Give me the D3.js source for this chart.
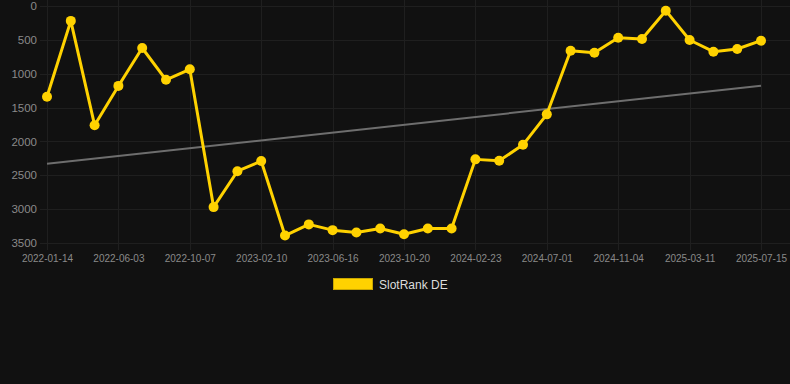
<!DOCTYPE html>
<html><head><meta charset="utf-8">
<script src="https://cdn.jsdelivr.net/npm/d3@7"></script>
<style>html,body{margin:0;padding:0;background:#111111;}svg{display:block;}</style>
</head><body>
<svg id="c" width="790" height="384"></svg>
<script>
const dates = ["2022-01-14","2022-02-28","2022-04-14","2022-06-03","2022-07-15","2022-08-26","2022-10-07","2022-11-18","2022-12-30","2023-02-10","2023-03-24","2023-05-05","2023-06-16","2023-07-28","2023-09-08","2023-10-20","2023-12-01","2024-01-12","2024-02-23","2024-04-05","2024-05-17","2024-07-01","2024-08-12","2024-09-23","2024-11-04","2024-12-16","2025-01-27","2025-03-11","2025-04-22","2025-06-03","2025-07-15"];
const ranks = [1340,220,1760,1180,620,1090,935,2970,2440,2290,3390,3225,3310,3345,3285,3370,3285,3285,2265,2285,2050,1600,660,690,468,487,69,502,675,635,512];
const trendEnds = [2330,1177];
const yTicks = [0,500,1000,1500,2000,2500,3000,3500];
const xTickLabels = ["2022-01-14","2022-06-03","2022-10-07","2023-02-10","2023-06-16","2023-10-20","2024-02-23","2024-07-01","2024-11-04","2025-03-11","2025-07-15"];
const seriesName = "SlotRank DE";

const svg = d3.select("#c");
const x = d3.scalePoint().domain(dates).range([47, 761]);
const y = d3.scaleLinear().domain([0, 3500]).range([6, 243]);
const gridColor = "#1f1f1f";
const textColor = "#8a8a8a";
const yellow = "#FFD200";

// horizontal grid + y labels
const yAxis = d3.axisLeft(y).tickValues(yTicks).tickSize(0).tickPadding(0).tickFormat(d3.format("d"));
const gy = svg.append("g").attr("transform","translate(37,0)").call(yAxis);
gy.select(".domain").remove();
gy.selectAll("text").attr("fill",textColor).style("font-family","Liberation Sans, Arial, sans-serif").style("font-size","11.5px").attr("x",0);
svg.append("g").selectAll("line").data(yTicks).join("line")
  .attr("x1",40).attr("x2",790).attr("y1",d=>Math.round(y(d))+0.5).attr("y2",d=>Math.round(y(d))+0.5)
  .attr("stroke",gridColor).attr("stroke-width",1);

// vertical grid + x labels
const xAxis = d3.axisBottom(x).tickValues(xTickLabels).tickSize(0).tickPadding(0);
const gx = svg.append("g").attr("transform","translate(0,258)").call(xAxis);
gx.select(".domain").remove();
gx.selectAll("text").attr("fill",textColor).style("font-family","Liberation Sans, Arial, sans-serif").style("font-size","10px").attr("dy","0.35em").attr("y",0);
svg.append("g").selectAll("line").data(xTickLabels).join("line")
  .attr("x1",d=>Math.round(x(d))+0.5).attr("x2",d=>Math.round(x(d))+0.5).attr("y1",0).attr("y2",250)
  .attr("stroke",gridColor).attr("stroke-width",1);

// trend line
svg.append("line")
  .attr("x1",x(dates[0])).attr("y1",y(trendEnds[0]))
  .attr("x2",x(dates[dates.length-1])).attr("y2",y(trendEnds[1]))
  .attr("stroke","#6e6e6e").attr("stroke-width",2);

// series line
const line = d3.line().x((d,i)=>x(dates[i])).y(d=>y(d));
svg.append("path").datum(ranks).attr("d",line).attr("fill","none")
  .attr("stroke",yellow).attr("stroke-width",3).attr("stroke-linejoin","round");
svg.append("g").selectAll("circle").data(ranks).join("circle")
  .attr("cx",(d,i)=>x(dates[i])).attr("cy",d=>y(d)).attr("r",5).attr("fill",yellow);

// legend
svg.append("rect").attr("x",333.5).attr("y",278.5).attr("width",39).attr("height",11)
  .attr("fill",yellow).attr("stroke","#c9a600").attr("stroke-width",1);
svg.append("text").attr("x",379).attr("y",288.5).text(seriesName)
  .attr("fill","#dddddd").style("font-family","Liberation Sans, Arial, sans-serif").style("font-size","12px");
</script>
</body></html>
